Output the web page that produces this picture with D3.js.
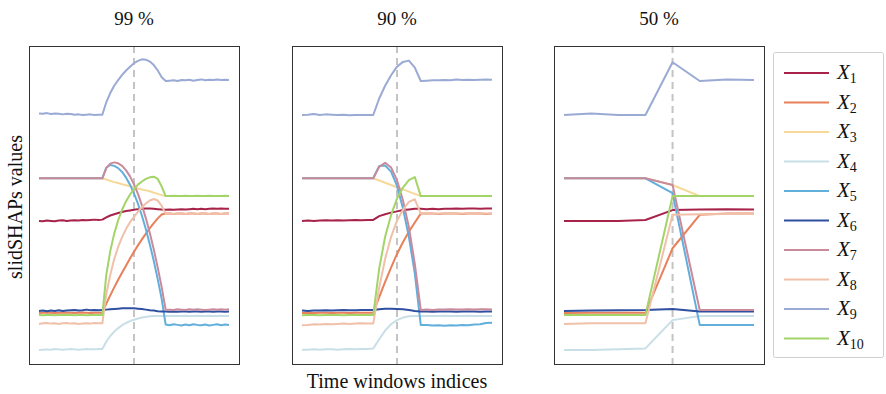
<!DOCTYPE html>
<html>
<head>
<meta charset="utf-8">
<script src="https://cdn.jsdelivr.net/npm/d3@7"></script>
<style>
  body { margin: 0; background: #fff; }
  svg { display: block; }
  text { font-family: "Liberation Serif", "DejaVu Serif", serif; fill: #111; }
</style>
</head>
<body>
<svg id="chart" width="886" height="394"></svg>
<script>
// ---------- data ----------
const seriesNames = ["1", "2", "3", "4", "5", "6", "7", "8", "9", "10"];
const seriesColors = ["#a8234a", "#e8805a", "#f6d998", "#c8dfe8", "#62afdc",
                      "#2f4fa0", "#c98a9b", "#f0c0a8", "#9aaad4", "#a3d468"];
const panelTitles = ["99 %", "90 %", "50 %"];
const markerIndex = [24, 16, 4];
const xLabel = "Time windows indices";
const yLabel = "slidSHAPs values";

// 99 % overlap (49 windows)
const series99 = [
  [45.0,44.9,45.1,45.0,44.9,45.1,45.2,45.0,45.1,45.2,45.1,45.3,45.2,45.3,45.4,45.3,
   45.4,46.1,46.7,47.1,47.5,47.8,48.1,48.3,48.5,48.7,48.8,48.9,48.9,48.8,48.7,48.6,48.5,
   48.6,48.5,48.6,48.7,48.6,48.7,48.8,48.7,48.8,48.7,48.8,48.9,48.8,48.9,48.8,48.8],
  [16.0,16.1,16.2,16.1,16.0,16.1,16.2,16.1,16.1,16.0,16.1,16.2,16.1,16.0,16.1,16.1,
   16.1,19.0,21.6,24.1,26.5,28.8,31.0,33.2,35.3,37.3,39.2,41.0,42.7,44.3,45.8,47.0,47.3,
   47.3,47.2,47.3,47.3,47.2,47.3,47.3,47.2,47.3,47.3,47.2,47.3,47.3,47.2,47.3,47.3],
  [58.4,58.4,58.4,58.4,58.4,58.4,58.4,58.4,58.4,58.4,58.4,58.4,58.4,58.4,58.4,58.4,
   58.4,58.0,57.6,57.2,56.9,56.5,56.2,55.9,55.6,55.2,54.9,54.6,54.3,53.9,53.5,53.1,52.8,
   52.8,52.8,52.8,52.8,52.8,52.8,52.8,52.8,52.8,52.8,52.8,52.8,52.8,52.8,52.8,52.8],
  [4.4,4.5,4.6,4.5,4.7,4.6,4.5,4.6,4.7,4.6,4.5,4.6,4.7,4.6,4.6,4.7,
   4.7,7.0,8.8,10.2,11.3,12.2,12.9,13.5,13.9,14.3,14.6,14.8,15.0,15.1,15.1,15.1,15.1,
   15.1,15.2,15.1,15.1,15.2,15.1,15.1,15.2,15.1,15.1,15.2,15.1,15.1,15.2,15.1,15.1],
  [58.4,58.4,58.4,58.4,58.4,58.4,58.4,58.4,58.4,58.4,58.4,58.4,58.4,58.4,58.4,58.4,
   58.4,61.8,62.6,62.3,61.6,60.4,58.6,56.4,53.6,50.4,46.6,42.4,37.6,32.4,26.6,20.4,12.4,
   12.2,12.5,12.3,12.1,12.4,12.2,12.5,12.3,12.2,12.4,12.1,12.3,12.5,12.2,12.4,12.3],
  [16.7,16.8,16.6,16.8,16.7,16.9,16.7,16.8,16.9,17.0,16.8,16.9,17.1,16.9,17.0,16.9,
   17.0,17.1,17.2,17.3,17.4,17.5,17.5,17.5,17.5,17.4,17.3,17.1,16.9,16.8,16.6,16.5,16.5,
   16.4,16.5,16.4,16.5,16.5,16.4,16.5,16.5,16.4,16.5,16.5,16.4,16.5,16.5,16.4,16.5],
  [58.4,58.4,58.4,58.4,58.4,58.4,58.4,58.4,58.4,58.4,58.4,58.4,58.4,58.4,58.4,58.4,
   58.4,61.6,63.0,63.4,63.1,62.3,60.9,59.0,56.5,53.5,49.9,45.8,41.2,36.0,30.3,24.1,17.0,
   17.1,17.0,17.2,17.1,17.0,17.2,17.1,17.2,17.1,17.0,17.1,17.2,17.1,17.2,17.1,17.2],
  [12.6,12.8,12.9,12.7,12.8,12.6,12.8,12.9,12.7,12.8,12.6,12.7,12.8,12.7,12.9,12.8,
   12.8,22.0,28.0,33.0,36.8,39.9,42.5,44.6,46.3,47.9,49.3,50.5,51.4,51.9,51.4,49.7,47.3,
   47.3,47.2,47.3,47.4,47.2,47.3,47.3,47.2,47.4,47.3,47.2,47.3,47.3,47.2,47.3,47.3],
  [78.8,78.7,78.9,78.6,78.8,78.7,78.5,78.7,78.6,78.4,78.5,78.3,78.4,78.5,78.3,78.4,
   78.4,82.3,85.2,87.5,89.3,90.9,92.3,93.5,94.6,95.3,95.8,95.7,95.1,94.0,92.3,90.2,89.0,
   89.1,89.2,89.0,89.3,89.2,89.4,89.1,89.3,89.5,89.2,89.4,89.3,89.5,89.3,89.4,89.3],
  [15.4,15.3,15.4,15.4,15.3,15.4,15.4,15.5,15.4,15.3,15.4,15.4,15.3,15.4,15.4,15.4,
   15.4,28.0,35.5,41.0,45.2,48.5,51.2,53.3,55.0,56.4,57.4,58.2,58.7,58.9,58.2,55.8,52.8,
   52.8,52.9,52.8,52.8,52.9,52.8,52.8,52.9,52.8,52.8,52.9,52.8,52.8,52.8,52.9,52.8]
];

// 90 % overlap (33 windows)
const series90 = [
  [45.0,45.1,45.0,45.1,45.2,45.1,45.2,45.1,45.2,45.3,45.2,45.3,
   45.3,46.5,47.1,47.6,48.0,48.4,48.6,48.8,48.8,
   48.7,48.8,48.7,48.8,48.8,48.9,48.8,48.9,48.9,48.8,48.9,48.9],
  [16.0,16.1,16.0,16.1,16.1,16.0,16.1,16.1,16.0,16.1,16.1,16.1,
   16.1,21.0,25.8,30.3,34.6,38.3,41.6,44.5,47.3,
   47.3,47.3,47.2,47.3,47.3,47.3,47.2,47.3,47.3,47.3,47.2,47.3],
  [58.4,58.4,58.4,58.4,58.4,58.4,58.4,58.4,58.4,58.4,58.4,58.4,
   58.4,57.7,57.0,56.3,55.6,54.9,54.2,53.5,52.8,
   52.8,52.8,52.8,52.8,52.8,52.8,52.8,52.8,52.8,52.8,52.8,52.8],
  [4.5,4.5,4.6,4.5,4.6,4.6,4.5,4.6,4.7,4.6,4.7,4.7,
   4.9,7.8,10.5,12.5,13.8,14.6,15.0,15.1,15.1,
   15.1,15.1,15.1,15.2,15.1,15.1,15.1,15.2,15.1,15.1,15.1,15.1],
  [58.4,58.4,58.4,58.4,58.4,58.4,58.4,58.4,58.4,58.4,58.4,58.4,
   58.4,62.3,62.4,60.5,56.0,49.0,40.0,28.5,12.3,
   12.3,12.1,12.2,12.0,12.2,12.1,12.3,12.2,12.4,12.5,12.9,13.0],
  [16.8,16.7,16.8,16.8,16.9,16.8,16.9,17.0,16.9,16.9,17.0,17.0,
   17.0,17.2,17.4,17.4,17.3,17.2,17.0,16.7,16.5,
   16.5,16.4,16.5,16.5,16.5,16.4,16.5,16.5,16.5,16.4,16.5,16.5],
  [58.4,58.4,58.4,58.4,58.4,58.4,58.4,58.4,58.4,58.4,58.4,58.4,
   58.4,62.0,63.3,61.8,57.8,51.5,43.0,31.5,17.0,
   17.1,17.0,17.1,17.1,17.2,17.1,17.1,17.2,17.1,17.2,17.2,17.1],
  [12.2,12.3,12.5,12.4,12.6,12.5,12.6,12.7,12.6,12.7,12.8,12.7,
   12.7,24.0,33.0,40.0,45.0,48.5,51.0,51.8,47.3,
   47.3,47.2,47.3,47.3,47.4,47.3,47.3,47.4,47.3,47.4,47.3,47.3],
  [78.3,78.4,78.6,78.3,78.5,78.4,78.3,78.4,78.2,78.3,78.3,78.3,
   78.3,83.5,87.5,90.8,93.5,95.0,95.4,93.2,89.0,
   89.1,89.2,89.2,89.3,89.2,89.5,89.3,89.4,89.3,89.4,89.5,89.4],
  [15.3,15.4,15.4,15.3,15.4,15.4,15.4,15.3,15.4,15.4,15.4,15.4,
   15.4,30.0,40.0,46.8,52.0,55.5,57.8,58.8,52.8,
   52.8,52.8,52.8,52.8,52.8,52.8,52.8,52.8,52.8,52.8,52.8,52.8]
];

// 50 % overlap (8 windows)
const series50 = [
  [45.0,45.0,45.0,45.3,48.4,48.6,48.7,48.6],
  [16.0,16.1,16.1,16.1,36.4,46.9,47.3,47.3],
  [58.4,58.4,58.4,58.4,56.3,52.8,52.8,52.8],
  [4.4,4.4,4.6,4.9,13.8,15.1,15.1,15.1],
  [58.4,58.4,58.4,58.4,53.7,12.3,12.3,12.3],
  [16.7,16.8,16.9,17.0,17.3,16.5,16.5,16.5],
  [58.4,58.4,58.4,58.4,56.3,17.0,17.0,17.0],
  [12.6,12.8,12.8,12.8,46.9,47.1,47.2,47.2],
  [78.3,78.8,78.3,78.3,94.9,89.0,89.5,89.3],
  [15.4,15.4,15.4,15.4,52.8,52.8,52.8,52.8]
];

const panelSeries = [series99, series90, series50];

// ---------- layout ----------
const svg = d3.select("#chart");
const frames = [[29, 239], [292, 502], [554, 764]];
const frameTop = 46, frameBottom = 364;
const pad = 10;

const y = d3.scaleLinear().domain([0, 100]).range([frameBottom, frameTop]);

panelSeries.forEach((series, p) => {
  const [l, r] = frames[p];
  const n = series[0].length;
  const x = d3.scaleLinear().domain([0, n - 1]).range([l + pad, r - pad]);
  const g = svg.append("g");

  // dashed marker
  g.append("line")
    .attr("x1", x(markerIndex[p])).attr("x2", x(markerIndex[p]))
    .attr("y1", frameTop).attr("y2", frameBottom)
    .attr("stroke", "#c4c4c4").attr("stroke-width", 2)
    .attr("stroke-dasharray", "7,5");

  const line = d3.line().x((d, i) => x(i)).y(d => y(d));
  series.forEach((vals, s) => {
    g.append("path")
      .attr("d", line(vals))
      .attr("fill", "none")
      .attr("stroke", seriesColors[s])
      .attr("stroke-width", 2)
      .attr("stroke-linejoin", "round");
  });

  // frame
  g.append("rect")
    .attr("x", l + 0.5).attr("y", frameTop + 0.5)
    .attr("width", r - l).attr("height", frameBottom - frameTop)
    .attr("fill", "none").attr("stroke", "#333").attr("stroke-width", 1);

  // title
  svg.append("text")
    .attr("x", (l + r) / 2).attr("y", 25)
    .attr("text-anchor", "middle")
    .attr("font-size", 19)
    .text(panelTitles[p]);
});

// axis labels
svg.append("text")
  .attr("x", (frames[1][0] + frames[1][1]) / 2).attr("y", 388)
  .attr("text-anchor", "middle").attr("font-size", 20)
  .text(xLabel);

svg.append("text")
  .attr("transform", "translate(22,207) rotate(-90)")
  .attr("text-anchor", "middle").attr("font-size", 20)
  .text(yLabel);

// legend
const lg = svg.append("g");
lg.append("rect")
  .attr("x", 773.5).attr("y", 52.5).attr("width", 110).attr("height", 305)
  .attr("rx", 2)
  .attr("fill", "#fff").attr("stroke", "#cfcfcf").attr("stroke-width", 1);

seriesNames.forEach((name, i) => {
  const yy = 73 + i * 29.5;
  lg.append("line")
    .attr("x1", 784).attr("x2", 829).attr("y1", yy).attr("y2", yy)
    .attr("stroke", seriesColors[i]).attr("stroke-width", 2);
  const t = lg.append("text").attr("x", 837).attr("y", yy + 6).attr("font-size", 21);
  t.append("tspan").attr("font-style", "italic").text("X");
  t.append("tspan").attr("font-size", 14).attr("dy", 4).text(name);
});
</script>
</body>
</html>
